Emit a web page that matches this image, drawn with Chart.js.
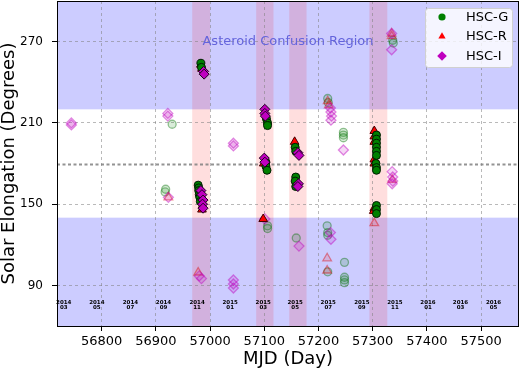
<!DOCTYPE html>
<html lang="en"><head>
<meta charset="utf-8">
<title>Solar elongation vs MJD</title>
<script src="https://cdn.jsdelivr.net/npm/chart.js@4.4.3/dist/chart.umd.min.js"></script>
<style>
  *{margin:0;padding:0}
  body{background:#fff;width:520px;height:371px;overflow:hidden}
</style>
</head><body>
<canvas id="c" width="520" height="371"></canvas>
<script>
// axis ticks
const xTicks = [56800, 56900, 57000, 57100, 57200, 57300, 57400, 57500]
const yTicks = [90, 150, 210, 270]

// shaded regions
const confusionBands = [[60, 140], [220, 300]]
const runBands = [[56967, 57000], [57085, 57117], [57146, 57178], [57294, 57327]]
const refLine = 180

// month markers along the bottom
const monthLabels = ['2014\n03', '2014\n05', '2014\n07', '2014\n09', '2014\n11', '2015\n01', '2015\n03',
  '2015\n05', '2015\n07', '2015\n09', '2015\n11', '2016\n01', '2016\n03', '2016\n05']
const monthMjd = [56730, 56791, 56853, 56914, 56976, 57037, 57098, 57157, 57218, 57280, 57341, 57402, 57462, 57523]

// [mjd, elongation] - solid markers
const gGood = [[56983, 254], [56984, 251], [56978, 164], [56979, 162], [56979, 160], [56980, 157], [56981, 155], [56982, 152],
  [57104, 213], [57106, 210], [57106, 208], [57103, 181], [57103, 178], [57105, 175], [57157, 192], [57158, 189],
  [57158, 170], [57157, 167], [57158, 163], [57307, 201], [57307, 198], [57307, 195], [57307, 192], [57307, 189],
  [57307, 186], [57306, 180], [57307, 177], [57307, 175], [57307, 149], [57307, 146], [57307, 143]]
const rGood = [[56983, 253], [56985, 250], [56985, 146], [56986, 149], [57099, 180], [57098, 139], [57156, 196],
  [57303, 204], [57303, 200], [57303, 196], [57303, 183], [57303, 180], [57303, 147], [57302, 145]]
const iGood = [[56988, 248], [56989, 246], [56983, 160], [56985, 157], [56987, 153], [56986, 150], [56987, 147],
  [57101, 220], [57101, 217], [57102, 215], [57100, 184], [57101, 181], [57162, 188], [57164, 186], [57163, 165], [57162, 163]]

// faint markers
const gFaint = [[56930, 209], [56917, 159], [56918, 161], [57106, 132], [57106, 134], [57159, 125], [57217, 228], [57218, 225],
  [57246, 203], [57246, 201], [57246, 199], [57216, 134], [57217, 129], [57217, 127], [57217, 100], [57248, 107],
  [57248, 96], [57248, 94], [57248, 92], [57337, 271], [57338, 269]]
const rFaint = [[56923, 155], [56978, 99.5], [57217, 226], [57219, 223], [57216, 110], [57216, 101], [57303, 136],
  [57335, 276], [57335, 274], [57336, 168]]
const iFaint = [[56744, 208.5], [56744, 210], [56922, 217], [56922, 215], [56923, 155], [56980, 97], [56984, 95],
  [57043, 193], [57043, 195], [57043, 94], [57043, 91], [57043, 88], [57101, 139], [57164, 119], [57222, 221],
  [57223, 218], [57224, 215], [57223, 212], [57246, 190], [57222, 129], [57223, 124], [57335, 276], [57335, 264],
  [57336, 174], [57337, 170], [57337, 167], [57336, 165]]

const FONT = 'DejaVu Sans'
const GREEN = '#008000', RED = '#ff0000', MAG = '#bf00bf'
const pts = a => a.map(([x, y]) => ({ x, y }))

const series = [
  { label: 'HSC-I', data: pts(iGood), pointStyle: 'rectRot', pointRadius: 5, backgroundColor: MAG, borderColor: '#200020', borderWidth: 1 },
  { label: 'HSC-G', data: pts(gGood), pointStyle: 'circle', pointRadius: 4, backgroundColor: GREEN, borderColor: '#001a00', borderWidth: 1 },
  { label: 'HSC-R', data: pts(rGood), pointStyle: 'triangle', pointRadius: 5, backgroundColor: RED, borderColor: '#400000', borderWidth: 1 },
  { label: 'I faint', data: pts(iFaint), pointStyle: 'rectRot', pointRadius: 5, backgroundColor: 'rgba(191,0,191,0.16)', borderColor: 'rgba(191,0,191,0.45)', borderWidth: 1.3 },
  { label: 'R faint', data: pts(rFaint), pointStyle: 'triangle', pointRadius: 5, backgroundColor: 'rgba(255,0,0,0.13)', borderColor: 'rgba(220,0,0,0.42)', borderWidth: 1.3 },
  { label: 'G faint', data: pts(gFaint), pointStyle: 'circle', pointRadius: 4, backgroundColor: 'rgba(0,128,0,0.15)', borderColor: 'rgba(0,110,0,0.4)', borderWidth: 1.3 },
]

const legendItems = [
  { text: 'HSC-G', style: 'circle', r: 3.6, color: GREEN },
  { text: 'HSC-R', style: 'triangle', r: 4.2, color: RED },
  { text: 'HSC-I', style: 'rectRot', r: 4.8, color: MAG },
]

const backdrop = {
  id: 'backdrop',
  beforeDraw(chart) {
    const { ctx, chartArea: a, scales: { x, y } } = chart
    ctx.save()
    ctx.fillStyle = '#fff'
    ctx.fillRect(0, 0, chart.width, chart.height)
    ctx.beginPath()
    ctx.rect(a.left, a.top, a.width, a.height)
    ctx.clip()
    ctx.fillStyle = 'rgba(0,0,255,0.2)'
    confusionBands.forEach(([lo, hi]) => {
      const t = y.getPixelForValue(hi), b = y.getPixelForValue(lo)
      ctx.fillRect(a.left, t, a.width, b - t)
    })
    ctx.fillStyle = 'rgba(255,0,0,0.13)'
    runBands.forEach(([lo, hi]) => {
      const l = x.getPixelForValue(lo), r = x.getPixelForValue(hi)
      ctx.fillRect(l, a.top, r - l, a.height)
    })
    ctx.restore()
  },
  beforeDatasetsDraw(chart) {
    const { ctx, chartArea: a, scales: { x, y } } = chart
    ctx.save()
    // reference line
    const py = Math.round(y.getPixelForValue(refLine)) + 0.5
    ctx.strokeStyle = 'rgba(128,128,128,0.85)'
    ctx.lineWidth = 1.8
    ctx.setLineDash([3, 2.5])
    ctx.beginPath()
    ctx.moveTo(a.left, py)
    ctx.lineTo(a.right, py)
    ctx.stroke()
    ctx.setLineDash([])
    // month labels
    ctx.fillStyle = '#000'
    ctx.font = `bold 5.5px "${FONT}"`
    ctx.textAlign = 'center'
    ctx.textBaseline = 'middle'
    monthLabels.forEach((lbl, i) => {
      const [yr, mo] = lbl.split('\n')
      const px = x.getPixelForValue(monthMjd[i])
      ctx.fillText(yr, px, y.getPixelForValue(77.5))
      ctx.fillText(mo, px, y.getPixelForValue(73.3))
    })
    // region text
    ctx.fillStyle = '#6464dc'
    ctx.font = `13px "${FONT}"`
    ctx.fillText('Asteroid Confusion Region', (a.left + a.right) / 2, y.getPixelForValue(270))
    ctx.restore()
  },
  afterDraw(chart) {
    const { ctx, chartArea: a } = chart
    ctx.save()
    ctx.strokeStyle = '#000'
    ctx.lineWidth = 1
    ctx.strokeRect(Math.round(a.left) + 0.5, Math.round(a.top) + 0.5, Math.round(a.width) - 1, Math.round(a.height))
    // legend box
    const bx = 425, by = 8, bw = 87, bh = 59
    ctx.fillStyle = 'rgba(255,255,255,0.8)'
    ctx.strokeStyle = '#d0d0d0'
    ctx.beginPath()
    ctx.roundRect(bx + 0.5, by + 0.5, bw, bh, 3)
    ctx.fill()
    ctx.stroke()
    ctx.font = `13px "${FONT}"`
    ctx.textAlign = 'left'
    ctx.textBaseline = 'middle'
    legendItems.forEach((it, i) => {
      const cy = by + 9 + i * 19.5
      ctx.fillStyle = it.color
      ctx.strokeStyle = it.color
      Chart.helpers.drawPoint(ctx, { pointStyle: it.style, radius: it.r, borderWidth: 0 }, 442, cy)
      ctx.fillStyle = '#000'
      ctx.fillText(it.text, 466, cy + 0.5)
    })
    ctx.restore()
  }
}

const noPad = s => { s.paddingTop = 0; s.paddingBottom = 0; s.paddingLeft = 0; s.paddingRight = 0 }

new Chart(document.getElementById('c'), {
  type: 'scatter',
  data: { datasets: series },
  options: {
    responsive: false,
    animation: false,
    devicePixelRatio: 1,
    layout: { autoPadding: false, padding: { top: 1, right: 1, left: 0, bottom: 0 } },
    plugins: { legend: { display: false }, tooltip: { enabled: false } },
    scales: {
      x: {
        type: 'linear', min: 56717.5, max: 57570,
        afterBuildTicks: s => { s.ticks = xTicks.map(v => ({ value: v })) },
        afterFit: s => { s.height = 45; noPad(s) },
        grid: { color: 'rgba(128,128,128,0.55)', lineWidth: 1, tickColor: '#000', tickLength: 5 },
        border: { display: false, dash: [3, 3] },
        ticks: { color: '#000', font: { family: FONT, size: 13 }, padding: 3, maxRotation: 0, autoSkip: false, callback: v => String(v) },
        title: { display: true, text: 'MJD (Day)', color: '#000', font: { family: FONT, size: 18, lineHeight: 1 }, padding: { top: 0, bottom: 3 } }
      },
      y: {
        type: 'linear', min: 60, max: 300,
        afterBuildTicks: s => { s.ticks = yTicks.map(v => ({ value: v })) },
        afterFit: s => { s.width = 57; noPad(s) },
        grid: { color: 'rgba(128,128,128,0.55)', lineWidth: 1, tickColor: '#000', tickLength: 5 },
        border: { display: false, dash: [3, 3] },
        ticks: { color: '#000', font: { family: FONT, size: 12 }, padding: 9, callback: v => String(v) },
        title: { display: true, text: 'Solar Elongation (Degrees)', color: '#000', font: { family: FONT, size: 18, lineHeight: 1 }, padding: 0 }
      }
    }
  },
  plugins: [backdrop]
})
</script>
</body></html>
